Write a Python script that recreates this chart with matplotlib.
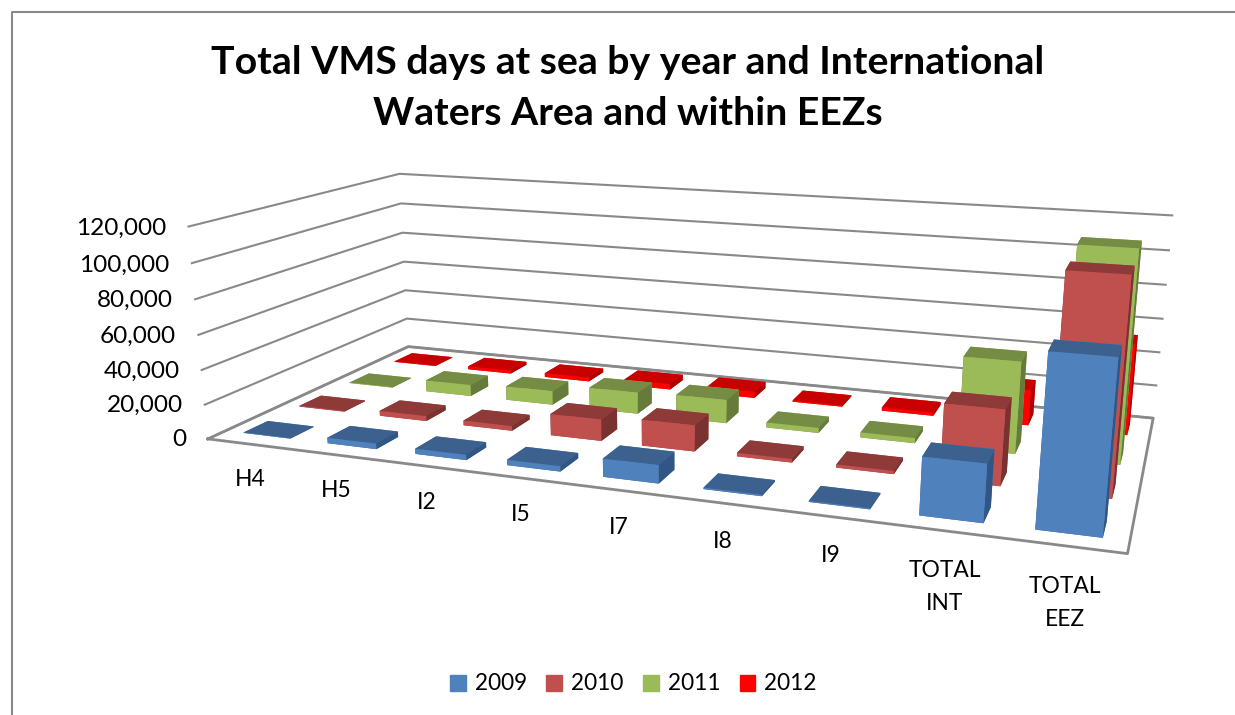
import numpy as np
import matplotlib
matplotlib.use("Agg")
import matplotlib.pyplot as plt
from matplotlib.lines import Line2D
from matplotlib.patches import Patch
from mpl_toolkits.mplot3d import proj3d

categories = ["H4", "H5", "I2", "I5", "I7", "I8", "I9", "TOTAL\nINT", "TOTAL\nEEZ"]
years = ["2009", "2010", "2011", "2012"]
v2009 = [300, 3200, 3000, 3000, 10000, 800, 600, 30000, 87000]
v2010 = [500, 3000, 2800, 12500, 15000, 2000, 1800, 41000, 114000]
v2011 = [300, 7000, 8500, 13000, 14000, 3000, 3000, 52000, 117000]
v2012 = [300, 2000, 2500, 3500, 4000, 800, 2000, 21000, 53000]
z_ticks = [0, 20000, 40000, 60000, 80000, 100000, 120000]
z_labels = ["0", "20,000", "40,000", "60,000", "80,000", "100,000", "120,000"]

# front, top, right side colours of each series
front = ["#4F81BD", "#C0504D", "#9BBB59", "#FF0000"]
top = ["#3C618E", "#8E3A38", "#748C43", "#C80000"]
side = ["#2F5684", "#7A3230", "#667A3A", "#B00000"]

W, H = 1235, 715
plt.rcParams["font.family"] = "Lato"
fig = plt.figure(figsize=(W / 100, H / 100), dpi=100, facecolor="white")


def make_camera(ax):
    # fit a camera from where the chart box corners sit in the picture
    nx, ny, zmax = len(categories), len(years), z_ticks[-1]
    pts = [((0, 0, 0), (208, 438)), ((nx, 0, 0), (1128, 553)),
           ((nx, ny, 0), (1153, 419)), ((0, ny, 0), (408, 347)),
           ((0, 0, 1), (188, 228)), ((0, ny, 1), (400, 173)),
           ((nx, ny, 1), (1172, 215))]
    rows = []
    for (x, y, z), (u, v) in pts:
        rows.append([x, y, z, 1, 0, 0, 0, 0, -u * x, -u * y, -u * z, -u])
        rows.append([0, 0, 0, 0, x, y, z, 1, -v * x, -v * y, -v * z, -v])
    p = np.linalg.svd(np.array(rows, float))[2][-1].reshape(3, 4)
    p = p @ np.diag([1, 1, 1 / zmax, 1])
    if p[2, 1] < 0:
        p = -p
    # pixels to the 2d limits of the (square) axes
    x0, x1 = ax.viewLim.intervalx
    y0, y1 = ax.viewLim.intervaly
    off = (W - H) / 2
    sx = (x1 - x0) / W
    sy = (y1 - y0) / W
    row_u = x0 * p[2] + sx * p[0]
    row_v = y0 * p[2] + sy * ((H + off) * p[2] - p[1])
    scale = p[2] @ np.array([nx / 2, ny / 2, 0, 1])
    row_d = p[2] - np.array([0, 0, 0, scale])
    return np.array([row_u, row_v, row_d, p[2]])


def label3d(x, y, z, s, **kw):
    # plain 2d text at the projected spot
    px, py, _ = proj3d.proj_transform(x, y, z, M)
    ax.text2D(px, py, s, transform=ax.transData, color="black", **kw)


# square 3d axes as wide as the figure, centred on it
ax = fig.add_axes([0, (H - W) / 2 / H, 1, W / H], projection="3d")
ax.set_xticks([])
ax.set_yticks([])
ax.set_zticks([])
ax.set_axis_off()
ax.computed_zorder = False
ax.set_proj_type("ortho")  # no clipping of lines, get_proj is replaced below
M = make_camera(ax)
ax.get_proj = lambda: M

nx, ny = len(categories), len(years)
grid = "#898989"
for z in z_ticks:
    ax.plot([0, 0, nx], [0, ny, ny], [z, z, z], color=grid, lw=1.5, zorder=1)
ax.plot([0, nx, nx, 0, 0], [0, 0, ny, ny, 0], [0] * 5, color=grid, lw=2, zorder=1)

bar_w = 0.56
bar_d = 0.42
series = [v2009, v2010, v2011, v2012]
for s, vals in enumerate(series):
    for c, v in enumerate(vals):
        cols = [top[s], top[s], front[s], front[s], side[s], side[s]]
        bar = ax.bar3d(c + 0.5 - bar_w / 2, s + 0.5 - bar_d / 2, 0, bar_w, bar_d, v,
                       color=cols, shade=False, edgecolor="none")
        bar.set_zorder(10 + (ny - s) * 100 + c)

for z, lab in zip(z_ticks, z_labels):
    label3d(-0.27, 0, z - 2000, lab, ha="right", va="center", fontsize=17.6)
for c, lab in enumerate(categories):
    label3d(c + 0.52, -0.05, -13500, lab, ha="center", va="top", fontsize=16.4, linespacing=1.7)

fig.text(628 / W, 1 - 88 / H, "Total VMS days at sea by year and International\nWaters Area and within EEZs",
         ha="center", va="center", fontsize=28.3, fontweight="bold", linespacing=1.56)

handles = [Patch(color=c, label=y) for c, y in zip(front, years)]
fig.legend(handles=handles, loc="center", bbox_to_anchor=(633.5 / W, 1 - 684 / H), ncol=4,
           frameon=False, fontsize=16.3, handlelength=0.7, handleheight=0.7,
           handletextpad=0.4, columnspacing=0.85)

# chart area border
fig.add_artist(Line2D([12 / W, 12 / W, 1], [0, 1 - 12 / H, 1 - 12 / H], color="#898989", lw=1.5))

fig.savefig("out.png", dpi=100)
